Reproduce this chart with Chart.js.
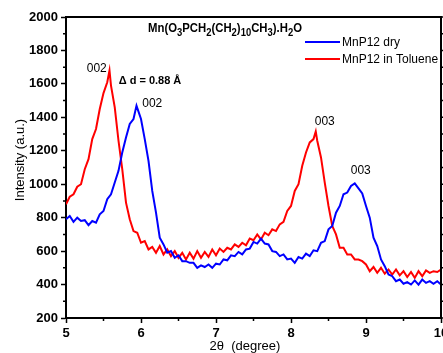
<!DOCTYPE html>
<html>
<head>
<meta charset="utf-8">
<script src="https://cdn.jsdelivr.net/npm/chart.js@4.4.0/dist/chart.umd.min.js"></script>
<style>
  html, body { margin: 0; padding: 0; background: #fff; }
  canvas { display: block; }
</style>
</head>
<body>
<canvas id="xrd" width="443" height="353"></canvas>
<script>
// XRD patterns, 2theta (degree) vs intensity (a.u.)

const xTol = [5.00, 5.05, 5.10, 5.15, 5.20, 5.25, 5.30, 5.35, 5.40, 5.45, 5.50, 5.55, 5.58, 5.60, 5.65, 5.70, 5.75, 5.80, 5.85, 5.90,
  5.95, 6.00, 6.05, 6.10, 6.15, 6.20, 6.25, 6.30, 6.35, 6.40, 6.45, 6.50, 6.55, 6.60, 6.65, 6.70, 6.75, 6.80, 6.85, 6.90,
  6.95, 7.00, 7.05, 7.10, 7.15, 7.20, 7.25, 7.30, 7.35, 7.40, 7.45, 7.50, 7.55, 7.60, 7.65, 7.70, 7.75, 7.80, 7.85, 7.90,
  7.95, 8.00, 8.05, 8.10, 8.15, 8.20, 8.25, 8.30, 8.33, 8.35, 8.40, 8.45, 8.50, 8.55, 8.60, 8.65, 8.70, 8.75, 8.80, 8.85,
  8.90, 8.95, 9.00, 9.05, 9.10, 9.15, 9.20, 9.25, 9.30, 9.35, 9.40, 9.45, 9.50, 9.55, 9.60, 9.65, 9.70, 9.75, 9.80, 9.85,
  9.90, 9.95, 10.00];
const yTol = [880, 925, 940, 985, 1000, 1090, 1150, 1270, 1330, 1450, 1545, 1610, 1680, 1590, 1460, 1260, 1090, 890, 790, 720,
  710, 650, 660, 610, 625, 590, 630, 580, 610, 570, 600, 560, 590, 550, 590, 555, 600, 560, 595, 565,
  610, 575, 615, 595, 620, 610, 640, 625, 650, 635, 675, 665, 700, 670, 710, 695, 730, 720, 760, 775,
  840, 870, 960, 1000, 1110, 1190, 1250, 1270, 1315, 1260, 1160, 1010, 870, 750, 700, 620, 620, 580, 580, 550,
  550, 540, 520, 480, 505, 470, 500, 465, 490, 460, 490, 455, 480, 445, 475, 440, 480, 450, 485, 470,
  480, 475, 490];

const xDry = [5.00, 5.05, 5.10, 5.15, 5.20, 5.25, 5.30, 5.35, 5.40, 5.45, 5.50, 5.55, 5.60, 5.65, 5.70, 5.75, 5.80, 5.85, 5.90, 5.94,
  5.97, 6.00, 6.05, 6.10, 6.15, 6.20, 6.25, 6.30, 6.35, 6.40, 6.45, 6.50, 6.55, 6.60, 6.65, 6.70, 6.75, 6.80, 6.85, 6.90,
  6.95, 7.00, 7.05, 7.10, 7.15, 7.20, 7.25, 7.30, 7.35, 7.40, 7.45, 7.50, 7.55, 7.60, 7.65, 7.70, 7.75, 7.80, 7.85, 7.90,
  7.95, 8.00, 8.05, 8.10, 8.15, 8.20, 8.25, 8.30, 8.35, 8.40, 8.45, 8.50, 8.55, 8.60, 8.65, 8.70, 8.75, 8.80, 8.85, 8.90,
  8.95, 9.00, 9.05, 9.10, 9.15, 9.20, 9.25, 9.30, 9.35, 9.40, 9.45, 9.50, 9.55, 9.60, 9.65, 9.70, 9.75, 9.80, 9.85, 9.90,
  9.95, 10.00];
const yDry = [790, 810, 775, 800, 780, 785, 755, 780, 770, 820, 840, 910, 940, 1010, 1080, 1190, 1280, 1360, 1390, 1470,
  1430, 1390, 1270, 1140, 960, 830, 680, 640, 590, 600, 560, 575, 540, 540, 530, 530, 500, 515, 505, 520,
  500, 525, 520, 550, 545, 575, 570, 595, 580, 610, 615, 655, 645, 675, 645, 640, 600, 595, 570, 580,
  550, 555, 530, 565, 555, 585, 570, 605, 600, 650, 660, 730, 750, 830, 870, 940, 950, 990, 1005, 975,
  945, 870, 800, 680, 630, 550, 510, 460, 450, 420, 430, 405, 415, 400, 425, 400, 430, 410, 420, 405,
  420, 400];

const seriesNames = ['MnP12 dry', 'MnP12 in Toluene'];
const seriesColors = ['#0000ff', '#ff0000'];
const yTicks = [200, 2000, 200];   // min, max, step
const xTicks = [5, 10, 1];

// peak labels placed in data coordinates
const peakLabels = [
  { text: '002', x: 5.41, y: 1690, bold: false },
  { text: '002', x: 6.15, y: 1480, bold: false },
  { text: '\u0394 d = 0.88 \u00c5', x: 6.12, y: 1617, bold: true },
  { text: '003', x: 8.45, y: 1372, bold: false },
  { text: '003', x: 8.93, y: 1079, bold: false }
];

const FONT = '"Liberation Sans", Arial, sans-serif';

function toPoints(xs, ys) {
  return xs.map((x, i) => ({ x: x, y: ys[i] }));
}

const extras = {
  id: 'extras',
  afterDraw(chart) {
    const { ctx, chartArea: a, scales: { x, y } } = chart;
    ctx.save();
    ctx.strokeStyle = '#000';

    // frame top/right
    ctx.lineWidth = 2;
    ctx.beginPath();
    ctx.moveTo(a.left, a.top);
    ctx.lineTo(a.right, a.top);
    ctx.lineTo(a.right, a.bottom);
    ctx.stroke();

    // minor ticks and right-axis ticks
    ctx.lineWidth = 1.5;
    ctx.beginPath();
    for (let v = yTicks[0]; v <= yTicks[1]; v += yTicks[2] / 2) {
      const py = y.getPixelForValue(v);
      const major = (v - yTicks[0]) % yTicks[2] === 0;
      if (!major) { ctx.moveTo(a.left - 3, py); ctx.lineTo(a.left, py); }
      ctx.moveTo(a.right, py); ctx.lineTo(a.right + (major ? 5 : 3), py);
    }
    for (let v = xTicks[0] + xTicks[2] / 2; v < xTicks[1]; v += xTicks[2]) {
      const px = x.getPixelForValue(v);
      ctx.moveTo(px, a.bottom); ctx.lineTo(px, a.bottom + 3);
    }
    ctx.stroke();

    // compound formula title with subscripts
    const parts = [['Mn(O', 0], ['3', 1], ['PCH', 0], ['2', 1], ['(CH', 0], ['2', 1], [')', 0], ['10', 1],
      ['CH', 0], ['3', 1], [').H', 0], ['2', 1], ['O', 0]];
    const mainF = 'bold 12px ' + FONT, subF = 'bold 10px ' + FONT;
    let w = 0;
    parts.forEach(p => { ctx.font = p[1] ? subF : mainF; w += ctx.measureText(p[0]).width; });
    const targetW = 154, sx = targetW / w;
    ctx.save();
    ctx.translate(148, 32);
    ctx.scale(sx, 1);
    ctx.fillStyle = '#000';
    ctx.textBaseline = 'alphabetic';
    ctx.textAlign = 'left';
    let cx = 0;
    parts.forEach(p => {
      ctx.font = p[1] ? subF : mainF;
      ctx.fillText(p[0], cx, p[1] ? 4 : 0);
      cx += ctx.measureText(p[0]).width;
    });
    ctx.restore();

    // legend
    const legY = [42, 59];
    chart.data.datasets.forEach((ds, i) => {
      ctx.strokeStyle = ds.borderColor;
      ctx.lineWidth = 2;
      ctx.beginPath();
      ctx.moveTo(305, legY[i]); ctx.lineTo(340, legY[i]);
      ctx.stroke();
      ctx.fillStyle = '#000';
      ctx.font = '12px ' + FONT;
      ctx.textAlign = 'left';
      ctx.textBaseline = 'middle';
      ctx.fillText(ds.label, 342, legY[i] + 1);
    });

    // peak labels
    peakLabels.forEach(l => {
      ctx.font = (l.bold ? 'bold 11px ' : '12px ') + FONT;
      ctx.fillStyle = '#000';
      ctx.textAlign = 'center';
      ctx.textBaseline = 'middle';
      ctx.fillText(l.text, x.getPixelForValue(l.x), y.getPixelForValue(l.y));
    });

    // axis titles
    ctx.font = '13px ' + FONT;
    ctx.textAlign = 'center';
    ctx.textBaseline = 'middle';
    ctx.fillText('2\u03b8  (degree)', 245, 346);
    ctx.save();
    ctx.translate(20, 160);
    ctx.rotate(-Math.PI / 2);
    ctx.fillText('Intensity (a.u.)', 0, 0);
    ctx.restore();

    ctx.restore();
  }
};

const config = {
  type: 'scatter',
  data: {
    datasets: [
      {
        label: seriesNames[0],
        data: toPoints(xDry, yDry),
        showLine: true,
        borderColor: seriesColors[0],
        backgroundColor: seriesColors[0],
        borderWidth: 2,
        pointRadius: 0,
        tension: 0
      },
      {
        label: seriesNames[1],
        data: toPoints(xTol, yTol),
        showLine: true,
        borderColor: seriesColors[1],
        backgroundColor: seriesColors[1],
        borderWidth: 2,
        pointRadius: 0,
        tension: 0
      }
    ]
  },
  options: {
    responsive: false,
    animation: false,
    layout: { padding: { top: 17, right: 2, left: 0, bottom: 0 } },
    plugins: {
      legend: { display: false },
      tooltip: { enabled: false }
    },
    scales: {
      x: {
        type: 'linear',
        min: xTicks[0],
        max: xTicks[1],
        afterFit(s) { s.height = 35; s.paddingRight = 0; s.paddingLeft = 0; },
        ticks: {
          stepSize: xTicks[2],
          autoSkip: false,
          maxRotation: 0,
          padding: 3,
          color: '#000',
          callback: v => String(v),
          font: { family: FONT, size: 13, weight: 'bold' }
        },
        grid: { drawOnChartArea: false, tickLength: 5, tickWidth: 1.5, tickColor: '#000' },
        border: { color: '#000', width: 2 }
      },
      y: {
        min: yTicks[0],
        max: yTicks[1],
        afterFit(s) { s.width = 66; s.paddingTop = 0; s.paddingBottom = 0; },
        ticks: {
          stepSize: yTicks[2],
          autoSkip: false,
          padding: 3,
          color: '#000',
          callback: v => String(v),
          font: { family: FONT, size: 13, weight: 'bold' }
        },
        grid: { drawOnChartArea: false, tickLength: 5, tickWidth: 1.5, tickColor: '#000' },
        border: { color: '#000', width: 2 }
      }
    }
  },
  plugins: [extras]
};

const xrdChart = new Chart(document.getElementById('xrd'), config);
</script>
</body>
</html>
